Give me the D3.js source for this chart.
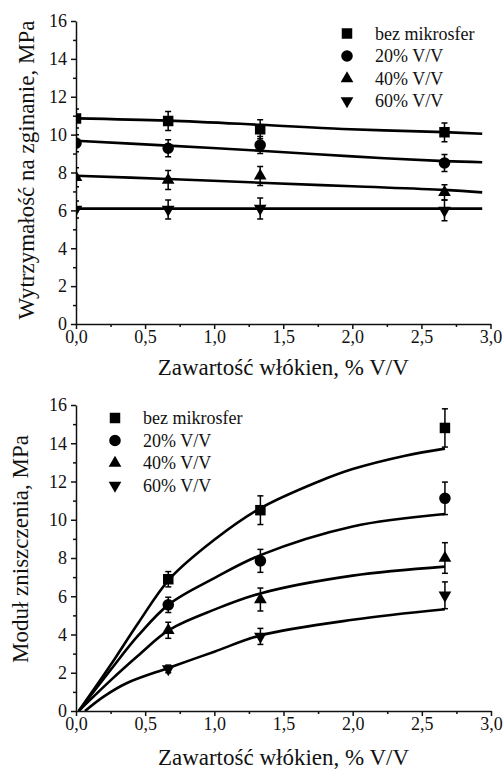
<!DOCTYPE html>
<html>
<head>
<meta charset="utf-8">
<script src="https://cdn.jsdelivr.net/npm/d3@7"></script>
<style>
  body { margin: 0; background: #fff; }
  text { font-family: "Liberation Serif", "Times New Roman", serif; fill: #111; }
</style>
</head>
<body>
<div id="chart"></div>
<script>
// series names, as in the legend
var seriesNames = ["bez mikrosfer", "20% V/V", "40% V/V", "60% V/V"];
var xTicks = [0, 0.5, 1.0, 1.5, 2.0, 2.5, 3.0];
var yTicks = [0, 2, 4, 6, 8, 10, 12, 14, 16];

// --- top chart: Wytrzymałość na zginanie ---
var fiber = [0, 0.667, 1.333, 2.667];
var bendMean = [
    [10.85, 10.72, 10.28, 10.12],
    [9.55, 9.28, 9.45, 8.5],
    [7.75, 7.6, 7.82, 6.95],
    [6.05, 6.05, 6.1, 6.0]
];
var bendErr = [
    [0.5, 0.5, 0.5, 0.5],
    [0.45, 0.45, 0.45, 0.45],
    [0.5, 0.5, 0.5, 0.4],
    [0.45, 0.5, 0.55, 0.55]
];
// fitted lines (x, y)
var bendFit = [
    [[0, 10.86], [0.667, 10.74], [1.333, 10.52], [1.93, 10.3], [2.667, 10.13], [2.94, 10.05]],
    [[0, 9.68], [0.667, 9.42], [1.333, 9.15], [2.0, 8.85], [2.667, 8.6], [2.94, 8.54]],
    [[0, 7.83], [0.667, 7.66], [1.333, 7.46], [2.0, 7.27], [2.667, 7.08], [2.94, 6.95]],
    [[0, 6.09], [1.5, 6.09], [2.94, 6.09]]
];

// --- bottom chart: Moduł zniszczenia ---
var fiber2 = [0.667, 1.333, 2.667];
var modMean = [
    [6.89, 10.5, 14.8],
    [5.55, 7.85, 11.12],
    [4.22, 5.83, 8.0],
    [2.2, 3.9, 6.05]
];
var modErr = [
    [0.4, 0.75, 1.0],
    [0.4, 0.6, 0.85],
    [0.42, 0.6, 0.8],
    [0.2, 0.42, 0.7]
];
var modFit = [
    [[0.02, 0], [0.25, 2.4], [0.45, 4.6], [0.676, 6.9], [1.0, 8.95], [1.333, 10.6], [1.755, 12.0], [2.0, 12.65], [2.38, 13.35], [2.667, 13.72]],
    [[0.02, 0], [0.25, 2.15], [0.45, 3.95], [0.676, 5.6], [1.0, 6.95], [1.333, 8.15], [2.0, 9.65], [2.667, 10.3]],
    [[0.02, 0], [0.25, 1.6], [0.45, 2.9], [0.676, 4.25], [1.0, 5.3], [1.333, 6.15], [2.0, 7.08], [2.667, 7.55]],
    [[0.065, 0], [0.2, 0.75], [0.365, 1.45], [0.667, 2.25], [1.0, 3.1], [1.333, 3.95], [2.0, 4.77], [2.667, 5.32]]
];

var symbols = [
    d3.symbol().type(d3.symbolSquare).size(110),
    d3.symbol().type(d3.symbolCircle).size(105),
    d3.symbol().type(d3.symbolTriangle).size(70),
    d3.symbol().type(d3.symbolTriangle).size(70)
];
var symRotate = [0, 0, 0, 180];

var svg = d3.select("#chart")
    .append("svg")
    .attr("width", 503)
    .attr("height", 769);

svg.append("rect").attr("width", 503).attr("height", 769).attr("fill", "#fff");

function comma(d) { return d3.format(".1f")(d).replace(".", ","); }

function drawPanel(p) {
    var x = d3.scaleLinear().domain([0, 3]).range([p.left, p.right]);
    var y = d3.scaleLinear().domain([0, 16]).range([p.bottom, p.top]);
    var g = svg.append("g");

    // clip so points at x = 0 are cut by the axis
    var clipId = "clip" + p.id;
    g.append("clipPath").attr("id", clipId)
        .append("rect")
        .attr("x", p.left).attr("y", p.top - 20)
        .attr("width", p.right - p.left + 10).attr("height", p.bottom - p.top + 20);

    // minor ticks
    g.append("g")
        .attr("transform", "translate(0," + p.bottom + ")")
        .call(d3.axisBottom(x).tickValues(d3.range(0.25, 3, 0.5)).tickSize(3).tickFormat("").tickSizeOuter(0))
        .call(function (a) { a.select(".domain").remove(); });
    g.append("g")
        .attr("transform", "translate(" + p.left + ",0)")
        .call(d3.axisLeft(y).tickValues(d3.range(1, 16, 2)).tickSize(3).tickFormat("").tickSizeOuter(0))
        .call(function (a) { a.select(".domain").remove(); });

    // main axes
    var xAxis = g.append("g")
        .attr("transform", "translate(0," + p.bottom + ")")
        .call(d3.axisBottom(x).tickValues(xTicks).tickSize(5).tickPadding(1).tickSizeOuter(0).tickFormat(comma));
    var yAxis = g.append("g")
        .attr("transform", "translate(" + p.left + ",0)")
        .call(d3.axisLeft(y).tickValues(yTicks).tickSize(5).tickPadding(4).tickSizeOuter(0));

    g.selectAll(".tick line, .domain").attr("stroke", "#111").attr("stroke-width", 1.5);
    xAxis.selectAll("text").style("font-size", "18px").style("font-family", "Liberation Serif").attr("fill", "#111");
    yAxis.selectAll("text").style("font-size", "18px").style("font-family", "Liberation Serif").attr("fill", "#111");

    // axis titles
    g.append("text")
        .attr("x", (p.left + p.right) / 2)
        .attr("y", p.xTitleY)
        .attr("text-anchor", "middle")
        .style("font-size", "23px")
        .text("Zawartość włókien, % V/V");
    g.append("text")
        .attr("transform", "translate(" + p.yTitleX + "," + p.yTitleMid + ") rotate(-90)")
        .attr("text-anchor", "middle")
        .style("font-size", "23px")
        .text(p.yTitle);

    var plot = g.append("g").attr("clip-path", "url(#" + clipId + ")");

    // fitted curves
    var line = d3.line()
        .x(function (d) { return x(d[0]); })
        .y(function (d) { return y(d[1]); })
        .curve(d3.curveCatmullRom.alpha(0.5));
    p.fit.forEach(function (f) {
        plot.append("path")
            .attr("d", line(f))
            .attr("fill", "none")
            .attr("stroke", "#000")
            .attr("stroke-width", 2.6);
    });

    // error bars + markers
    p.mean.forEach(function (vals, s) {
        vals.forEach(function (v, i) {
            var cx = x(p.xs[i]);
            var e = p.err[s][i];
            var eb = plot.append("g").attr("stroke", "#000").attr("stroke-width", 1.5);
            eb.append("line").attr("x1", cx).attr("x2", cx).attr("y1", y(v + e)).attr("y2", y(v - e));
            eb.append("line").attr("x1", cx - 3).attr("x2", cx + 3).attr("y1", y(v + e)).attr("y2", y(v + e));
            eb.append("line").attr("x1", cx - 3).attr("x2", cx + 3).attr("y1", y(v - e)).attr("y2", y(v - e));
            plot.append("path")
                .attr("d", symbols[s]())
                .attr("transform", "translate(" + cx + "," + y(v) + ") rotate(" + symRotate[s] + ")")
                .attr("fill", "#000");
        });
    });

    // legend
    var legend = g.selectAll(".legend" + p.id)
        .data(seriesNames)
        .enter().append("g")
        .attr("transform", function (d, i) { return "translate(0," + (p.legY + i * p.legStep) + ")"; });
    legend.append("path")
        .attr("d", function (d, i) { return symbols[i](); })
        .attr("transform", function (d, i) { return "translate(" + p.legX + ",0) rotate(" + symRotate[i] + ")"; })
        .attr("fill", "#000");
    legend.append("text")
        .attr("x", p.legX + 28)
        .attr("y", 6)
        .style("font-size", "18px")
        .text(function (d) { return d; });
}

drawPanel({
    id: "a", left: 76, right: 490.5, top: 21, bottom: 324,
    xs: fiber, mean: bendMean, err: bendErr, fit: bendFit,
    xTitleY: 375, yTitleX: 34, yTitleMid: 170,
    yTitle: "Wytrzymałość na zginanie, MPa",
    legX: 347, legY: 33.5, legStep: 22.5
});

drawPanel({
    id: "b", left: 76, right: 491, top: 405, bottom: 711,
    xs: fiber2, mean: modMean, err: modErr, fit: modFit,
    xTitleY: 765, yTitleX: 28, yTitleMid: 549,
    yTitle: "Moduł zniszczenia, MPa",
    legX: 115, legY: 418, legStep: 22.5
});
</script>
</body>
</html>
